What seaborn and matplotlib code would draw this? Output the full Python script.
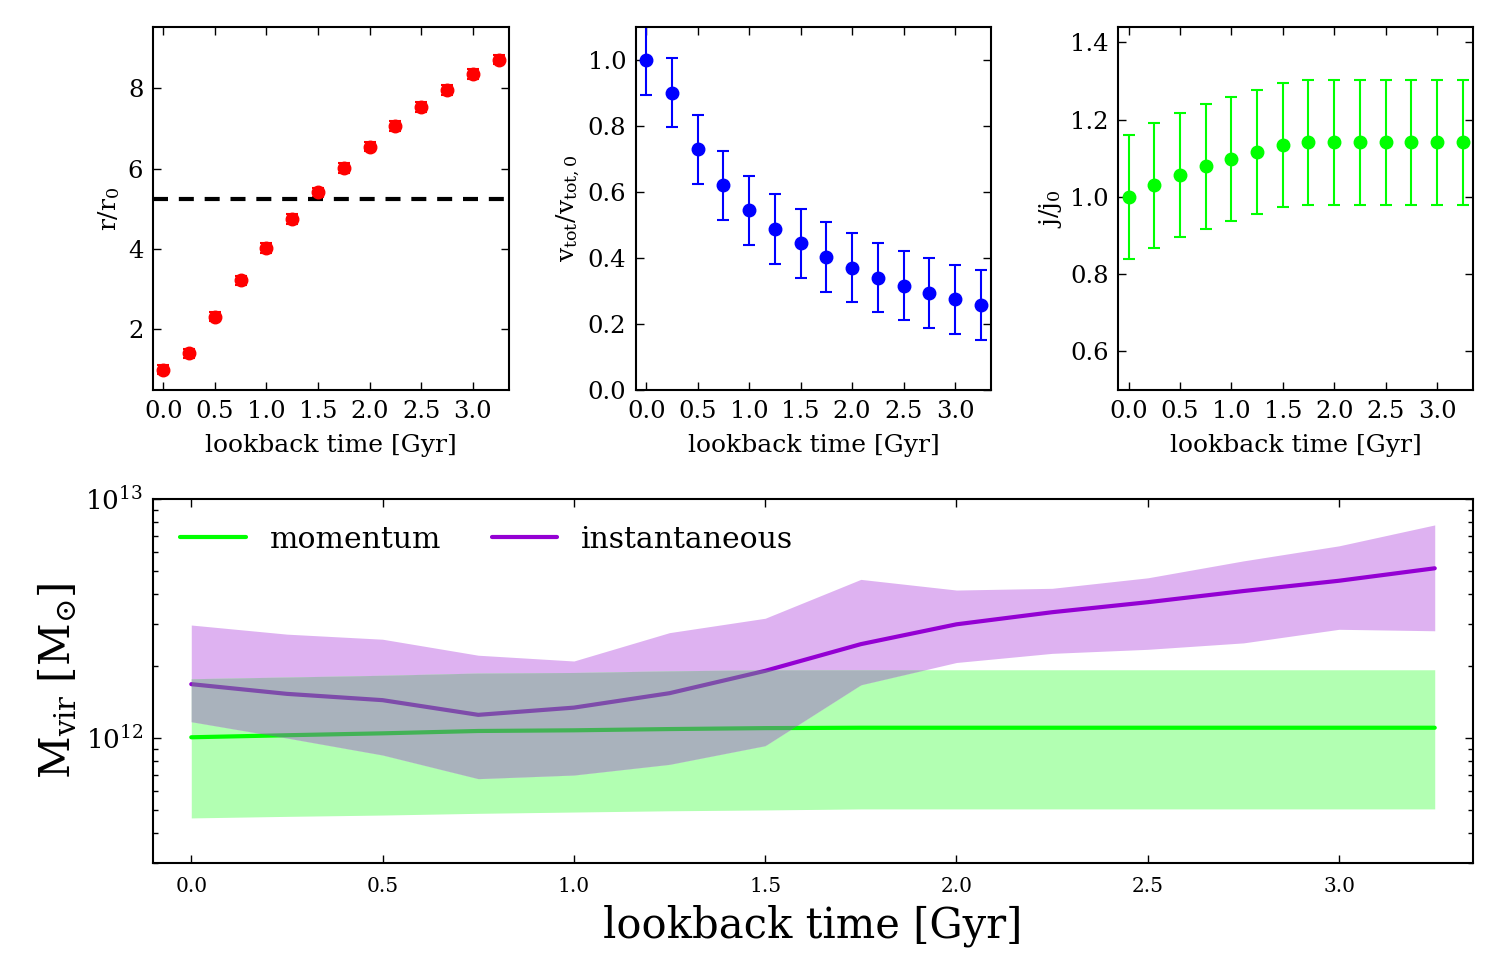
import numpy as np
import pandas as pd
import matplotlib
matplotlib.use("Agg")
import matplotlib.pyplot as plt
import seaborn as sns

# datos
lookback = [0.0, 0.25, 0.5, 0.75, 1.0, 1.25, 1.5, 1.75, 2.0, 2.25, 2.5, 2.75, 3.0, 3.25]

r_ratio = [1.0, 1.40, 2.32, 3.22, 4.03, 4.75, 5.41, 6.02, 6.55, 7.07, 7.54, 7.96, 8.36, 8.72]
r_err = [0.12] * 14
r_line = 5.25

v_ratio = [1.0, 0.901, 0.729, 0.620, 0.544, 0.488, 0.444, 0.403, 0.371, 0.340, 0.316, 0.294, 0.275, 0.258]
v_err = [0.105] * 14

j_ratio = [1.0, 1.030, 1.057, 1.079, 1.099, 1.117, 1.134, 1.141, 1.141, 1.141, 1.141, 1.141, 1.141, 1.141]
j_err = [0.161] * 14

# M_vir en unidades de 1e12 Msun
mom = [1.007, 1.027, 1.046, 1.07, 1.077, 1.09, 1.10, 1.104, 1.104, 1.104, 1.104, 1.104, 1.104, 1.104]
mom_hi = [1.77, 1.80, 1.83, 1.87, 1.88, 1.91, 1.93, 1.93, 1.93, 1.93, 1.93, 1.93, 1.93, 1.93]
mom_lo = [0.463, 0.47, 0.476, 0.484, 0.490, 0.496, 0.50, 0.505, 0.505, 0.505, 0.505, 0.505, 0.505, 0.505]
inst = [1.68, 1.53, 1.44, 1.25, 1.34, 1.54, 1.91, 2.47, 2.99, 3.36, 3.70, 4.12, 4.55, 5.13]
inst_hi = [2.97, 2.72, 2.59, 2.22, 2.10, 2.76, 3.17, 4.61, 4.16, 4.23, 4.68, 5.51, 6.37, 7.79]
inst_lo = [1.17, 1.0, 0.849, 0.676, 0.70, 0.776, 0.929, 1.67, 2.07, 2.26, 2.35, 2.50, 2.85, 2.81]

sns.set_theme(style="white")
plt.rcParams["font.family"] = ["DejaVu Serif"]
plt.rcParams["mathtext.fontset"] = "dejavuserif"
plt.rcParams["axes.edgecolor"] = "black"
plt.rcParams["axes.linewidth"] = 1.5
plt.rcParams["xtick.color"] = "black"
plt.rcParams["ytick.color"] = "black"
plt.rcParams["text.color"] = "black"
plt.rcParams["axes.labelcolor"] = "black"

fig = plt.figure(figsize=(15, 9.75), dpi=100)
ax1 = fig.add_axes([0.102, 0.6, 0.2373, 0.3723])
ax2 = fig.add_axes([0.424, 0.6, 0.2367, 0.3723])
ax3 = fig.add_axes([0.7455, 0.6, 0.2365, 0.3723])
ax4 = fig.add_axes([0.102, 0.1149, 0.88, 0.3733])


def style_ticks(ax, size):
    ax.tick_params(which="major", direction="in", length=6, width=1.0,
                   top=True, right=True, bottom=True, left=True,
                   labelsize=size, pad=7)
    ax.tick_params(which="minor", direction="in", length=3.5, width=1.0,
                   top=True, right=True, bottom=True, left=True)


df = pd.DataFrame({"t": lookback, "r": r_ratio, "v": v_ratio, "j": j_ratio})

# panel 1
ax1.errorbar(df["t"], df["r"], yerr=r_err, fmt="o", color="red", ms=9,
             capsize=4, elinewidth=1.5, capthick=1.5, mec="red")
ax1.axhline(r_line, color="black", lw=3, ls=(0, (3.6, 2.6)))
ax1.set_ylim(0.49, 9.53)
ax1.set_yticks([2, 4, 6, 8])
ax1.set_ylabel(r"$\mathrm{r/r_0}$", fontsize=18)

# panel 2
ax2.errorbar(df["t"], df["v"], yerr=v_err, fmt="o", color="blue", ms=9,
             capsize=4, elinewidth=1.5, capthick=1.5, mec="blue")
ax2.set_ylim(0, 1.1)
ax2.set_yticks(np.arange(0, 1.01, 0.2))
ax2.set_ylabel(r"$\mathrm{v_{tot}}\left/\mathrm{v_{tot,0}}\right.$", fontsize=18)

# panel 3
ax3.errorbar(df["t"], df["j"], yerr=j_err, fmt="o", color="lime", ms=9,
             capsize=4, elinewidth=1.5, capthick=1.5, mec="lime")
ax3.set_ylim(0.5, 1.44)
ax3.set_yticks([0.6, 0.8, 1.0, 1.2, 1.4])
ax3.set_ylabel(r"$\mathrm{j/j_0}$", fontsize=18)

for ax in (ax1, ax2, ax3):
    ax.set_xlim(-0.1, 3.35)
    ax.set_xticks(np.arange(0, 3.01, 0.5))
    ax.set_xlabel("lookback time [Gyr]", fontsize=18, labelpad=8)
    style_ticks(ax, 17.5)

# panel inferior
t = np.array(lookback)
m = np.array(mom) * 1e12
m_hi = np.array(mom_hi) * 1e12
m_lo = np.array(mom_lo) * 1e12
ins = np.array(inst) * 1e12
i_hi = np.array(inst_hi) * 1e12
i_lo = np.array(inst_lo) * 1e12

ax4.set_yscale("log")
ax4.fill_between(t, i_lo, i_hi, color="darkviolet", alpha=0.3, lw=0)
ax4.fill_between(t, m_lo, m_hi, color="lime", alpha=0.3, lw=0)

# zona de solapamiento (en espacio log)
tt = np.linspace(t.min(), t.max(), 600)
lo = np.maximum(np.interp(tt, t, np.log10(m_lo)), np.interp(tt, t, np.log10(i_lo)))
hi = np.minimum(np.interp(tt, t, np.log10(m_hi)), np.interp(tt, t, np.log10(i_hi)))
ov = hi > lo
ax4.fill_between(tt, 10**lo, 10**hi, where=ov, color="white", lw=0)

sns.lineplot(x=t, y=m, ax=ax4, color="lime", lw=3, label="momentum")
sns.lineplot(x=t, y=ins, ax=ax4, color="darkviolet", lw=3, label="instantaneous")

ax4.fill_between(tt, 10**lo, 10**hi, where=ov, color="slategray", alpha=0.6, lw=0, zorder=5)

ax4.set_ylim(3e11, 1e13)
ax4.set_xlim(-0.1, 3.35)
ax4.set_xticks(np.arange(0, 3.01, 0.5))
ax4.set_xlabel("lookback time [Gyr]", fontsize=30, labelpad=6)
ax4.set_ylabel(r"$\mathrm{M_{vir}\ [M_{\odot}]}$", fontsize=30, labelpad=4)
style_ticks(ax4, 14.5)
ax4.tick_params(axis="x", pad=10)
ax4.tick_params(axis="y", which="major", labelsize=19)
ax4.legend(loc="upper left", ncol=2, frameon=False, fontsize=21.5,
           handlelength=2.2, handletextpad=0.8, columnspacing=1.7,
           borderaxespad=0.5)

plt.savefig("out.png", dpi=100)
plt.close()
